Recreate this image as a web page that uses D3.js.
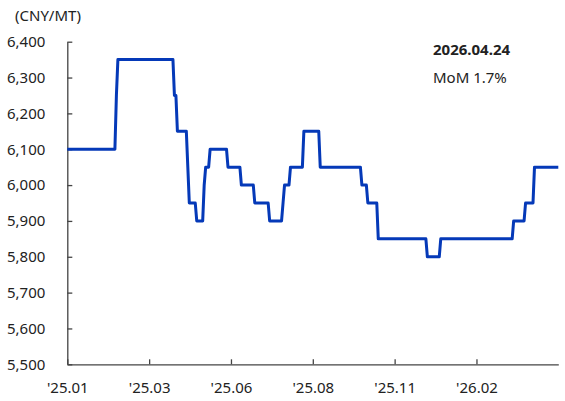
<!DOCTYPE html>
<html>
<head>
<meta charset="utf-8">
<script src="https://cdn.jsdelivr.net/npm/d3@7"></script>
<style>
  body { margin: 0; background: #fff; }
  svg text { font-family: "Noto Sans", "Open Sans", sans-serif; fill: #222; }
</style>
</head>
<body>
<svg width="565" height="401"></svg>
<script>
// trading-day index where a new price starts, and that price (CNY/MT)
var stepDay   = [0,    33,   34,   72,   74,   81,   82,   87,   92,   93,   96,   108,  117,  126,  136,  145,  146,  150,  159,  170,  198,  202,  209,  242,  251,  300,  308,  314];
var stepPrice = [6100, 6250, 6350, 6250, 6150, 6050, 5950, 5900, 6000, 6050, 6100, 6050, 6000, 5950, 5900, 5950, 6000, 6050, 6150, 6050, 6000, 5950, 5850, 5800, 5850, 5900, 5950, 6050];
var dayCount = 331;

var xTickDays   = [0, 55, 110, 165, 220, 275];
var xTickLabels = ["'25.01", "'25.03", "'25.06", "'25.08", "'25.11", "'26.02"];
var yTicks = [5500, 5600, 5700, 5800, 5900, 6000, 6100, 6200, 6300, 6400];

var unitLabel = "(CNY/MT)";
var lastDate = "2026.04.24";
var momText = "MoM 1.7%";

// hold each price until the next change -> daily series
var daily = [];
var k = 0;
for (var i = 0; i < dayCount; i++) {
  while (k + 1 < stepDay.length && stepDay[k + 1] <= i) k++;
  daily.push({day: i, price: stepPrice[k]});
}

var svg = d3.select("svg"),
    margin = {top: 41.7, right: 6.7, bottom: 36.7, left: 67.3},
    width = +svg.attr("width") - margin.left - margin.right,
    height = +svg.attr("height") - margin.top - margin.bottom;

var g = svg.append("g")
    .attr("transform", "translate(" + margin.left + "," + margin.top + ")");

var x = d3.scaleLinear().domain([0, dayCount - 1]).range([0, width]);
var y = d3.scaleLinear().domain([5500, 6400]).range([height, 0]);

var yAxis = g.append("g")
    .call(d3.axisLeft(y).tickValues(yTicks).tickFormat(d3.format(","))
      .tickSize(-5).tickSizeOuter(0).tickPadding(22));

var xAxis = g.append("g")
    .attr("transform", "translate(0," + height + ")")
    .call(d3.axisBottom(x).tickValues(xTickDays)
      .tickFormat(function(d, i) { return xTickLabels[i]; })
      .tickSize(-5).tickSizeOuter(0).tickPadding(18.5));

[xAxis, yAxis].forEach(function(a) {
  a.selectAll("path, line").attr("stroke", "#444").attr("stroke-width", 1.3);
  a.selectAll("text").style("font-size", "15px").attr("fill", "#222");
});

var line = d3.line()
    .x(function(d) { return x(d.day); })
    .y(function(d) { return y(d.price); });

g.append("path")
    .datum(daily)
    .attr("fill", "none")
    .attr("stroke", "#0539b8")
    .attr("stroke-width", 3)
    .attr("stroke-linejoin", "round")
    .attr("d", line);

svg.append("text")
    .attr("x", 15).attr("y", 21)
    .style("font-size", "15px")
    .text(unitLabel);

svg.append("text")
    .attr("x", 433).attr("y", 55)
    .style("font-size", "15px").style("font-weight", "bold")
    .attr("fill", "#111")
    .text(lastDate);

svg.append("text")
    .attr("x", 433).attr("y", 83)
    .style("font-size", "15px")
    .text(momText);
</script>
</body>
</html>
